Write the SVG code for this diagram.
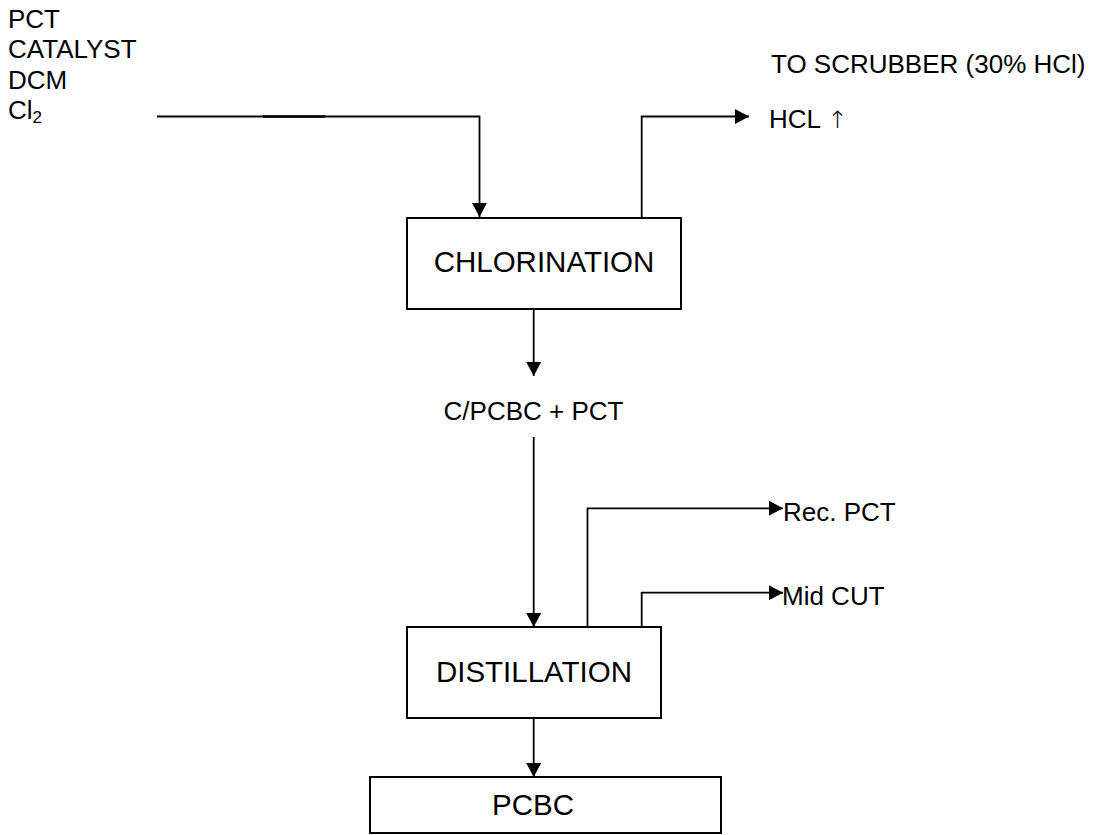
<svg xmlns="http://www.w3.org/2000/svg" width="1097" height="835" viewBox="0 0 1097 835">
<style>
.t{font-family:"Liberation Sans",Arial,sans-serif;font-size:26px;fill:#000}
.bt{font-family:"Liberation Sans",Arial,sans-serif;font-size:29.5px;fill:#000;text-anchor:middle}
.box{fill:#fff;stroke:#000;stroke-width:2}
.ln{fill:none;stroke:#000;stroke-width:1.8}
</style>
<defs>
<marker id="ah" markerUnits="userSpaceOnUse" markerWidth="16" markerHeight="16" refX="14" refY="7.5" orient="auto">
<path d="M0,0 L14,7.5 L0,15 Z" fill="#000"/>
</marker>
</defs>
<rect width="1097" height="835" fill="#fff"/>
<g id="inputs">
<text class="t" x="8" y="28">PCT</text>
<text class="t" x="8" y="58">CATALYST</text>
<text class="t" x="8" y="89">DCM</text>
<text class="t" x="8" y="119">Cl<tspan font-size="17" dy="4">2</tspan></text>
</g>
<g id="scrubber">
<text class="t" x="771" y="73">TO SCRUBBER (30% HCl)</text>
<text class="t" x="769" y="128">HCL <tspan font-family="'DejaVu Sans',sans-serif" font-weight="300" font-size="24">↑</tspan></text>
</g>
<g id="chlorination">
<rect class="box" x="407" y="218" width="274" height="91"/>
<text class="bt" x="544" y="272">CHLORINATION</text>
</g>
<g id="intermediate">
<text class="t" x="533.5" y="420" text-anchor="middle" font-size="28.5">C/PCBC + PCT</text>
</g>
<g id="distillation">
<rect class="box" x="407" y="627" width="254" height="91"/>
<text class="bt" x="534" y="682">DISTILLATION</text>
</g>
<g id="recpct">
<text class="t" x="783" y="521">Rec. PCT</text>
</g>
<g id="midcut">
<text class="t" x="782" y="605">Mid CUT</text>
</g>
<g id="pcbc">
<rect class="box" x="370" y="777" width="351" height="56"/>
<text class="bt" x="533" y="815">PCBC</text>
</g>
<g id="connectors">
<path class="ln" d="M157,116.5 H479.5 V217" marker-end="url(#ah)"/>
<line x1="263" y1="116.5" x2="325" y2="116.5" stroke="#000" stroke-width="2.4"/>
<path class="ln" d="M641.7,218 V116.5 H749" marker-end="url(#ah)"/>
<path class="ln" d="M533.7,309 V376" marker-end="url(#ah)"/>
<path class="ln" d="M533.7,437 V627" marker-end="url(#ah)"/>
<path class="ln" d="M587.5,627 V508.3 H783" marker-end="url(#ah)"/>
<path class="ln" d="M641.7,627 V592.7 H783" marker-end="url(#ah)"/>
<path class="ln" d="M533.7,718 V777" marker-end="url(#ah)"/>
</g>
</svg>
